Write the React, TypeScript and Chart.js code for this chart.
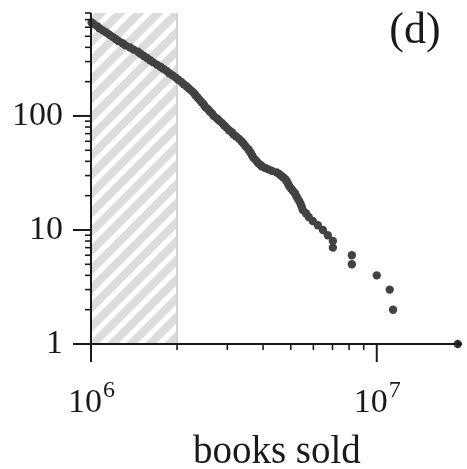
import React, { useEffect, useRef } from 'react';
import { Chart, registerables } from 'chart.js';

Chart.register(...registerables);

// ---- data (rank vs. books sold) ----
const tailRanks = [1, 2, 3, 4, 5, 6, 7, 8, 9, 10, 11, 12, 13, 14];
const tailSalesMillions = [19.2, 11.4, 11.1, 10.0, 8.18, 8.18, 7.02, 7.02, 6.74, 6.48, 6.22, 5.97, 5.78, 5.65];

const bodyRanks = [
  15, 16, 17, 18, 19, 20, 21, 22, 23, 24, 25, 26, 27, 28, 29, 30, 31, 32, 33, 34, 35, 36, 37, 38, 39,
  41, 43, 45, 47, 49, 51, 54, 57, 60, 63, 66, 69, 72, 75, 79, 83, 87, 91, 95,
  100, 105, 110, 115, 120, 126, 132, 138, 145, 152, 159, 166, 174, 182, 190, 199, 208, 217, 227, 237,
  248, 259, 270, 282, 295, 308, 322, 336, 351, 366, 382, 399, 416, 434, 453, 473, 494, 516, 539, 563,
  588, 614, 641, 660,
];
const bodySalesMillions = [
  5.51, 5.46, 5.41, 5.35, 5.28, 5.22, 5.17, 5.09, 5.02, 4.95, 4.91, 4.87, 4.83, 4.78, 4.70, 4.62, 4.55, 4.46, 4.30, 4.18, 4.07, 3.97, 3.93, 3.87, 3.83,
  3.77, 3.70, 3.66, 3.63, 3.59, 3.55, 3.48, 3.42, 3.36, 3.30, 3.22, 3.15, 3.11, 3.04, 2.98, 2.92, 2.87, 2.81, 2.76,
  2.69, 2.65, 2.60, 2.56, 2.51, 2.48, 2.44, 2.40, 2.36, 2.32, 2.29, 2.25, 2.20, 2.16, 2.11, 2.07, 2.02, 1.98, 1.93, 1.88,
  1.84, 1.79, 1.75, 1.70, 1.65, 1.61, 1.57, 1.53, 1.49, 1.46, 1.41, 1.37, 1.32, 1.29, 1.25, 1.22, 1.19, 1.16, 1.13, 1.10,
  1.07, 1.05, 1.02, 1.005,
];

// ---- axes ----
const xMin = 1e6;
const xMax = 2e7;
const yMin = 1;
const yMax = 800;
const yTickValues = [1, 10, 100];
const yTickLabels = ['1', '10', '100'];
const yMajorTicks = [10, 100];
const yMinorTicks = [2, 3, 4, 5, 6, 7, 8, 9, 20, 30, 40, 50, 60, 70, 80, 90, 200, 300, 400, 500, 600, 700, 800];
const xTickValues = [1e6, 1e7];
const xTickBase = ['10', '10'];
const xTickExp = ['6', '7'];
const xMajorTicks = [1e7];
const xMinorTicks = [2e6, 3e6, 4e6, 5e6, 6e6, 7e6, 8e6, 9e6];
const xTitle = 'books sold';
const panelLabel = '(d)';
const shadedFrom = 1e6;
const shadedTo = 2e6;

const SERIF = '"Liberation Serif", "Times New Roman", Times, serif';
const INK = '#1a1a1a';
const DOT = '#424242';

const framePlugin = {
  id: 'frame',
  beforeDatasetsDraw(chart: any) {
    const { ctx, chartArea, scales } = chart;
    const x = scales.x;
    const y = scales.y;
    const x0 = x.getPixelForValue(shadedFrom);
    const x1 = x.getPixelForValue(shadedTo);
    const top = chartArea.top;
    const bottom = y.getPixelForValue(yMin);
    const S = 19;
    const tile = document.createElement('canvas');
    tile.width = S;
    tile.height = S;
    const t = tile.getContext('2d')!;
    t.strokeStyle = '#dcdcdc';
    t.lineWidth = 8;
    for (const o of [-S, 0, S]) {
      t.beginPath();
      t.moveTo(o - S, 2 * S);
      t.lineTo(o + 2 * S, -S);
      t.stroke();
    }
    ctx.save();
    ctx.fillStyle = ctx.createPattern(tile, 'repeat');
    ctx.fillRect(x0, top, x1 - x0, bottom - top);
    ctx.strokeStyle = '#d2d2d2';
    ctx.lineWidth = 2;
    ctx.beginPath();
    ctx.moveTo(x1, top);
    ctx.lineTo(x1, bottom);
    ctx.stroke();
    ctx.restore();
  },
  afterDraw(chart: any) {
    const { ctx, chartArea, scales } = chart;
    const x = scales.x;
    const y = scales.y;
    const ax = x.getPixelForValue(xMin);
    const ay = y.getPixelForValue(yMin);
    const xEnd = x.getPixelForValue(xMax);
    const yTop = y.getPixelForValue(yMax);
    ctx.save();
    ctx.strokeStyle = INK;
    ctx.fillStyle = INK;
    ctx.lineCap = 'butt';
    ctx.lineWidth = 2;
    const line = (a: number, b: number, c: number, d: number) => {
      ctx.beginPath();
      ctx.moveTo(a, b);
      ctx.lineTo(c, d);
      ctx.stroke();
    };
    // axis lines
    line(ax - 18, ay, xEnd - 3, ay);
    line(ax, ay + 18, ax, yTop);
    // arrow
    ctx.beginPath();
    ctx.moveTo(xEnd, ay);
    ctx.lineTo(xEnd - 6, ay - 3.5);
    ctx.lineTo(xEnd - 6, ay + 3.5);
    ctx.closePath();
    ctx.fill();
    // ticks
    for (const v of yMajorTicks) {
      const p = y.getPixelForValue(v);
      line(ax - 18, p, ax, p);
    }
    for (const v of xMajorTicks) {
      const p = x.getPixelForValue(v);
      line(p, ay, p, ay + 18);
    }
    ctx.lineWidth = 1.6;
    for (const v of yMinorTicks) {
      const p = y.getPixelForValue(v);
      line(ax - 6, p, ax, p);
    }
    for (const v of xMinorTicks) {
      const p = x.getPixelForValue(v);
      line(p, ay, p, ay + 6);
    }
    // x tick labels with superscripts
    ctx.textBaseline = 'alphabetic';
    ctx.textAlign = 'left';
    xTickValues.forEach((v, i) => {
      const p = x.getPixelForValue(v);
      ctx.font = `34px ${SERIF}`;
      const w1 = ctx.measureText(xTickBase[i]).width;
      ctx.font = `24px ${SERIF}`;
      const w2 = ctx.measureText(xTickExp[i]).width;
      const start = p - (w1 + w2) / 2;
      ctx.font = `34px ${SERIF}`;
      ctx.fillText(xTickBase[i], start, 412);
      ctx.font = `24px ${SERIF}`;
      ctx.fillText(xTickExp[i], start + w1 + 1, 397);
    });
    // axis title
    ctx.font = `39px ${SERIF}`;
    ctx.textAlign = 'center';
    ctx.fillText(xTitle, (chartArea.left + chartArea.right) / 2, 463);
    // panel label
    ctx.font = `44px ${SERIF}`;
    ctx.fillText(panelLabel, 415, 43);
    ctx.restore();
  },
};

export default function App() {
  const ref = useRef<HTMLCanvasElement | null>(null);
  useEffect(() => {
    if (!ref.current) return;
    const points = [
      ...tailRanks.map((r, i) => ({ x: tailSalesMillions[i] * 1e6, y: r })),
      ...bodyRanks.map((r, i) => ({ x: bodySalesMillions[i] * 1e6, y: r })),
    ];
    const chart = new Chart(ref.current, {
      type: 'scatter',
      data: {
        datasets: [
          {
            data: points,
            pointRadius: 4.2,
            pointBackgroundColor: DOT,
            pointBorderWidth: 0,
            showLine: false,
            clip: false as any,
          },
        ],
      },
      options: {
        responsive: false,
        animation: false,
        events: [],
        layout: { padding: { top: 13, right: 4, left: 0, bottom: 0 } },
        plugins: { legend: { display: false }, tooltip: { enabled: false } },
        scales: {
          x: {
            type: 'logarithmic',
            min: xMin,
            max: xMax,
            grid: { display: false, drawTicks: false },
            border: { display: false },
            ticks: { display: false },
            afterFit: (s: any) => {
              s.height = 125;
              s.paddingLeft = 0;
              s.paddingRight = 0;
            },
          },
          y: {
            type: 'logarithmic',
            min: yMin,
            max: yMax,
            grid: { display: false, drawTicks: false },
            border: { display: false },
            afterBuildTicks: (s: any) => {
              s.ticks = yTickValues.map((v) => ({ value: v }));
            },
            ticks: {
              autoSkip: false,
              padding: 28,
              color: INK,
              font: { family: SERIF, size: 34 },
              callback: (_v: any, i: number) => yTickLabels[i],
            },
            afterFit: (s: any) => {
              s.width = 91;
              s.paddingTop = 0;
              s.paddingBottom = 0;
            },
          },
        },
      },
      plugins: [framePlugin],
    });
    return () => chart.destroy();
  }, []);
  return (
    <div style={{ position: 'fixed', left: 0, top: 0, width: 467, height: 469, background: '#fff' }}>
      <canvas ref={ref} width={467} height={469} />
    </div>
  );
}
